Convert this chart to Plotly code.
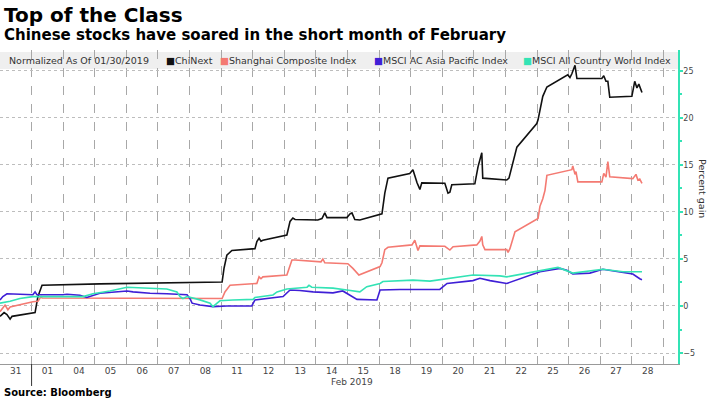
import plotly.graph_objects as go

# ---------------- data ----------------
day_labels = ["31", "01", "04", "05", "06", "07", "08", "11", "12", "13", "14",
              "15", "18", "19", "20", "21", "22", "25", "26", "27", "28"]
month_label = "Feb 2019"
legend_title = "Normalized As Of 01/30/2019"
series_names = ["ChiNext", "Shanghai Composite Index",
                "MSCI AC Asia Pacific Index", "MSCI All Country World Index"]
series_colors = ["#111111", "#f47a72", "#3f1fd6", "#33e3b5"]

# time is measured in trading-day slots (slot 0 = Jan 31, slot 1 = Feb 01, ...)
chinext_t = [0.00, 0.13, 0.22, 0.32, 0.38, 0.63, 1.04, 1.11, 1.20, 1.33, 3.16, 5.06,
             7.03, 7.09, 7.18, 7.34, 8.07, 8.13, 8.20, 8.26, 8.32, 9.08, 9.18, 9.27,
             9.34, 10.06, 10.19, 10.28, 10.35, 10.98, 11.08, 11.14, 11.23, 11.39,
             12.09, 12.18, 12.28, 12.97, 13.07, 13.20, 13.29, 13.35, 14.08, 14.18,
             14.24, 14.30, 15.03, 15.13, 15.25, 15.28, 16.04, 16.11, 16.20, 16.36,
             16.99, 17.03, 17.18, 17.31, 17.97, 18.04, 18.10, 18.20, 18.26, 19.05,
             19.11, 19.18, 19.24, 19.30, 20.00, 20.09, 20.16, 20.22, 20.32]
chinext_v = [-1.1, -0.7, -0.9, -1.4, -1.1, -0.95, -0.75, -0.7, 1.0, 2.2, 2.35, 2.45,
             2.55, 4.0, 5.4, 5.9, 6.1, 6.85, 7.2, 6.9, 7.0, 7.55, 9.0, 9.35,
             9.2, 9.15, 9.3, 9.9, 9.4, 9.4, 9.8, 9.9, 9.2, 9.15,
             9.8, 12.0, 13.6, 14.1, 14.5, 13.1, 12.4, 13.1, 13.05, 12.0,
             12.1, 12.9, 13.0, 14.8, 16.3, 13.6, 13.4, 13.6, 14.8, 16.9,
             19.4, 19.8, 22.3, 23.3, 24.6, 24.3, 24.7, 25.6, 24.2, 24.2,
             24.5, 23.9, 23.9, 22.2, 22.3, 23.9, 23.2, 23.6, 22.7]

shanghai_t = [0.00, 0.16, 0.25, 0.32, 1.04, 1.20, 1.30, 1.33, 7.03, 7.12, 7.28, 8.13,
              8.20, 8.26, 8.32, 9.08, 9.24, 9.34, 10.16, 10.22, 10.28, 11.01, 11.17,
              11.30, 11.36, 12.03, 12.09, 12.18, 12.28, 13.04, 13.13, 13.23, 13.29,
              14.08, 14.24, 14.34, 15.09, 15.19, 15.25, 15.28, 15.35, 16.04, 16.08,
              16.14, 16.30, 17.03, 17.09, 17.18, 17.25, 17.31, 18.10, 18.13, 18.20,
              18.23, 18.29, 19.05, 19.11, 19.18, 19.24, 19.30, 20.03, 20.13, 20.19,
              20.25, 20.32]
shanghai_v = [-0.6, 0.1, -0.4, -0.1, 0.45, 0.5, 1.0, 0.85, 0.8, 1.5, 2.2, 2.4,
              3.1, 2.9, 3.1, 3.3, 4.9, 4.9, 4.7, 5.0, 4.6, 4.5, 4.0,
              3.5, 3.3, 4.2, 4.6, 6.0, 6.25, 6.5, 7.0, 5.9, 6.4,
              6.35, 5.95, 6.3, 6.5, 6.9, 7.4, 6.5, 6.0, 6.0, 5.7,
              6.1, 7.9, 9.3, 10.6, 11.4, 12.3, 13.9, 14.5, 14.9, 14.0,
              14.3, 13.2, 13.2, 14.1, 13.7, 15.35, 13.75, 13.55, 14.0, 13.4,
              13.5, 13.05]

asia_t = [0.00, 0.09, 0.22, 0.63, 1.04, 1.11, 1.17, 1.99, 2.12, 2.53, 2.75, 3.16,
          4.02, 4.21, 4.75, 5.28, 5.92, 6.01, 6.08, 6.33, 6.74, 7.18, 7.97, 8.07,
          8.45, 8.96, 9.18, 9.49, 9.91, 10.54, 10.85, 11.08, 11.30, 11.93, 12.03,
          12.66, 13.29, 13.92, 14.15, 14.97, 15.19, 15.51, 16.04, 16.30, 16.68,
          17.09, 17.72, 17.94, 18.13, 18.67, 19.08, 19.62, 20.03, 20.25, 20.32]
asia_v = [0.64, 1.0, 1.3, 1.25, 1.2, 1.5, 1.2, 1.2, 1.25, 1.15, 0.9, 1.35,
          1.6, 1.5, 1.35, 1.3, 1.2, 0.8, 0.3, 0.1, -0.07, 0.0, 0.0, 0.64,
          0.8, 1.0, 1.7, 1.65, 1.5, 1.4, 1.6, 1.17, 0.7, 0.64, 1.7,
          1.75, 1.77, 1.77, 2.4, 2.7, 2.95, 2.7, 2.4, 2.7, 3.1,
          3.65, 4.0, 3.8, 3.4, 3.5, 3.9, 3.6, 3.4, 2.9, 2.8]

world_t = [0.00, 0.32, 0.63, 1.04, 1.90, 2.63, 2.94, 3.48, 4.02, 4.43, 5.28, 5.60,
           5.70, 5.79, 5.92, 6.33, 6.65, 6.74, 6.96, 7.37, 8.01, 8.07, 8.64, 8.77,
           9.08, 9.72, 9.78, 9.87, 10.54, 10.98, 11.39, 11.61, 12.03, 12.12, 12.66,
           13.07, 13.61, 13.92, 14.97, 15.82, 16.04, 16.68, 17.09, 17.66, 18.13,
           18.67, 19.08, 19.72, 20.32]
world_v = [0.3, 0.5, 0.8, 1.0, 1.0, 1.0, 1.3, 1.6, 2.0, 1.95, 1.8, 1.5,
           1.0, 0.8, 1.0, 0.65, 0.3, -0.07, 0.55, 0.64, 0.7, 0.9, 1.17, 1.5,
           1.8, 2.0, 2.2, 2.0, 1.9, 1.7, 1.5, 2.05, 2.4, 2.6, 2.7,
           2.75, 2.65, 2.8, 3.3, 3.2, 3.1, 3.5, 3.75, 4.1, 3.5,
           3.75, 3.9, 3.65, 3.65]

y_ticks = [-5, 0, 5, 10, 15, 20, 25]
y_title = "Percent gain"
title = "Top of the Class"
subtitle = "Chinese stocks have soared in the short month of February"
source = "Source: Bloomberg"

# ---------------- figure ----------------
series_t = [chinext_t, shanghai_t, asia_t, world_t]
series_v = [chinext_v, shanghai_v, asia_v, world_v]

fig = go.Figure()
for name, color, t, v in zip(series_names, series_colors, series_t, series_v):
    fig.add_trace(go.Scatter(x=t, y=v, mode="lines", name=name,
                             line=dict(color=color, width=1.6),
                             showlegend=False, hoverinfo="skip"))

axis_teal = "#33e3b5"
tick_font = dict(family="DejaVu Sans", size=9, color="#444444")

fig.update_layout(
    width=710, height=399,
    margin=dict(l=0, r=32, t=50, b=35),
    plot_bgcolor="white", paper_bgcolor="white",
    xaxis=dict(
        range=[0, 21.46],
        tickmode="array",
        tickvals=[i + 0.5 for i in range(len(day_labels))],
        ticktext=day_labels,
        ticks="", showgrid=False, zeroline=False,
        showline=True, linecolor="#999999", linewidth=1,
        tickfont=tick_font, ticklabelstandoff=-2,
        minor=dict(tickmode="linear", tick0=0, dtick=1, showgrid=True,
                   griddash="dash", gridcolor="#a8a8a8", gridwidth=1, ticks=""),
    ),
    yaxis=dict(
        side="right",
        range=[-6.17, 27.23],
        tickmode="array", tickvals=y_ticks,
        showgrid=True, griddash="dot", gridcolor="#bdbdbd", gridwidth=1,
        zeroline=False,
        showline=True, linecolor=axis_teal, linewidth=1.5,
        ticks="outside", ticklen=3, tickcolor=axis_teal, tickwidth=1.5,
        tickfont=dict(family="DejaVu Sans", size=8, color="#444444"),
        ticklabelstandoff=-1,
        minor=dict(tickmode="linear", tick0=-5, dtick=2.5, ticks="outside",
                   ticklen=2, tickcolor=axis_teal, showgrid=False),
    ),
)

# legend band
fig.add_shape(type="rect", xref="paper", yref="paper", x0=0, x1=1,
              y0=0.9395, y1=0.9936, fillcolor="#efefef", line=dict(width=0),
              layer="between")

# month separator below axis
fig.add_shape(type="line", xref="x", yref="paper", x0=1, x1=1, y0=0, y1=-0.07,
              line=dict(color="#333333", width=1))

legend_font = dict(family="DejaVu Sans", size=9.5, color="#333333")
fig.add_annotation(text=legend_title, xref="paper", yref="paper", x=0.0103, y=0.966,
                   xanchor="left", yanchor="middle", showarrow=False, font=legend_font)
legend_x = [0.242, 0.322, 0.548, 0.768]
for name, color, lx in zip(series_names, series_colors, legend_x):
    fig.add_annotation(text=f"<span style='color:{color}'>■</span>{name}",
                       xref="paper", yref="paper", x=lx, y=0.966,
                       xanchor="left", yanchor="middle", showarrow=False,
                       font=legend_font)

fig.add_annotation(text=f"<b>{title}</b>", xref="paper", yref="paper", x=0.003, y=1.113,
                   xanchor="left", yanchor="middle", showarrow=False,
                   font=dict(family="DejaVu Sans", size=20, color="#000000"))
fig.add_annotation(text=f"<b>{subtitle}</b>", xref="paper", yref="paper", x=0.003, y=1.048,
                   xanchor="left", yanchor="middle", showarrow=False,
                   font=dict(family="DejaVu Sans", size=15, color="#000000"))
fig.add_annotation(text=f"<b>{source}</b>", xref="paper", yref="paper", x=0.003, y=-0.09,
                   xanchor="left", yanchor="middle", showarrow=False,
                   font=dict(family="DejaVu Sans", size=10, color="#000000"))
fig.add_annotation(text=month_label, xref="x", yref="paper", x=11.14, y=-0.058,
                   xanchor="center", yanchor="middle", showarrow=False, font=tick_font)
fig.add_annotation(text=y_title, xref="paper", yref="paper", x=1.037, y=0.56,
                   xanchor="center", yanchor="middle", textangle=90, showarrow=False,
                   font=dict(family="DejaVu Sans", size=9.5, color="#333333"))

fig.write_html("out.html", config={"displayModeBar": False},
               post_script="document.body.style.margin='0';")
